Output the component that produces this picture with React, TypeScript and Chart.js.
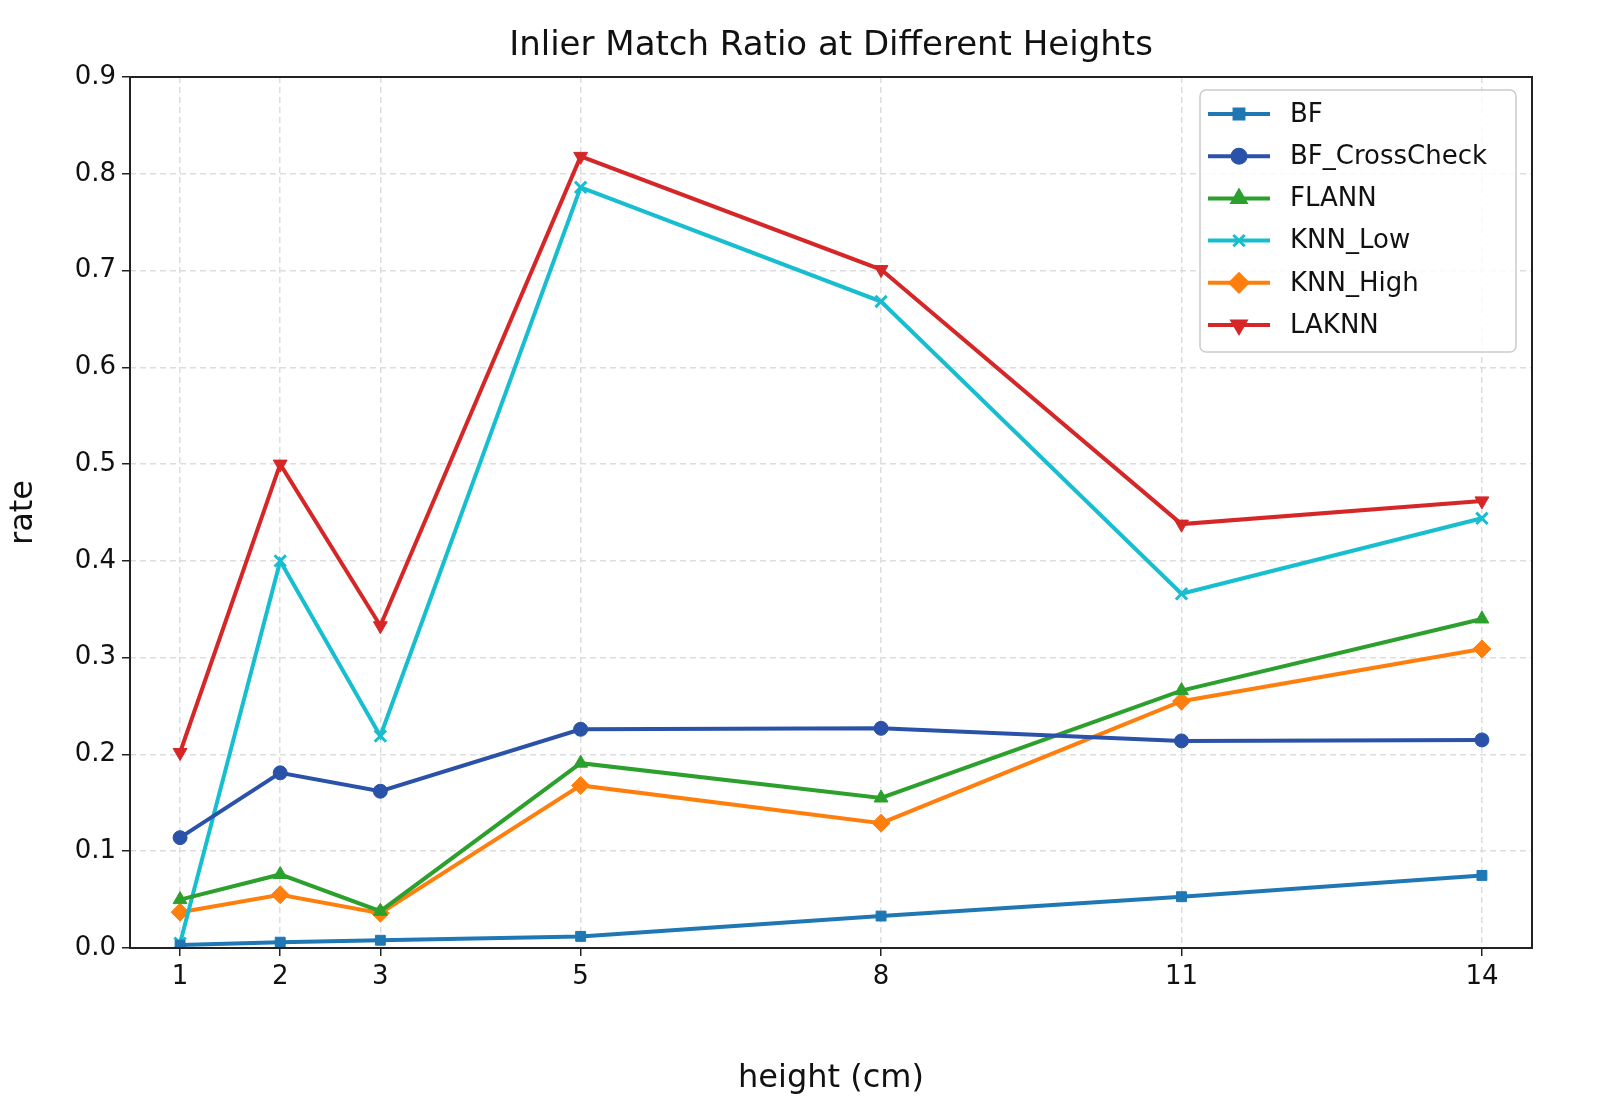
import React, { useEffect, useRef } from "react";
import { Chart, registerables } from "chart.js";
import { drawPoint } from "chart.js/helpers";
Chart.register(...registerables);

const heights = [1, 2, 3, 5, 8, 11, 14];
const xTicks = [1, 2, 3, 5, 8, 11, 14];
const bf = [0.003, 0.006, 0.008, 0.012, 0.033, 0.053, 0.075];
const bfCross = [0.114, 0.181, 0.162, 0.226, 0.227, 0.214, 0.215];
const flann = [0.05, 0.076, 0.038, 0.191, 0.155, 0.266, 0.34];
const knnLow = [0.005, 0.4, 0.219, 0.786, 0.668, 0.366, 0.444];
const knnHigh = [0.037, 0.055, 0.036, 0.168, 0.129, 0.255, 0.309];
const laknn = [0.202, 0.5, 0.333, 0.818, 0.701, 0.438, 0.462];

const FONT = "'DejaVu Sans', sans-serif";

const series = [
  { label: "BF", data: bf, color: "#1f77b4", style: "rect", rot: 0, r: 7 },
  { label: "BF_CrossCheck", data: bfCross, color: "#2a52a8", style: "circle", rot: 0, r: 7 },
  { label: "FLANN", data: flann, color: "#2ca02c", style: "triangle", rot: 0, r: 8 },
  { label: "KNN_Low", data: knnLow, color: "#17becf", style: "crossRot", rot: 0, r: 8 },
  { label: "KNN_High", data: knnHigh, color: "#ff7f0e", style: "rectRot", rot: 0, r: 9 },
  { label: "LAKNN", data: laknn, color: "#d62728", style: "triangle", rot: 180, r: 8 },
];

const framePlugin = {
  id: "frame",
  afterDraw(chart: any) {
    const { ctx, chartArea: a } = chart;
    ctx.save();
    ctx.strokeStyle = "#222";
    ctx.lineWidth = 2;
    ctx.strokeRect(a.left, a.top, a.right - a.left, a.bottom - a.top);
    ctx.fillStyle = "#111";
    ctx.font = `34px ${FONT}`;
    ctx.textAlign = "center";
    ctx.textBaseline = "middle";
    ctx.fillText("Inlier Match Ratio at Different Heights", (a.left + a.right) / 2, 46);
    const lx = 1200, ly = 90, lw = 316, lh = 262;
    ctx.fillStyle = "rgba(255,255,255,0.85)";
    ctx.strokeStyle = "#ccc";
    ctx.lineWidth = 1.5;
    ctx.beginPath();
    ctx.roundRect(lx, ly, lw, lh, 6);
    ctx.fill();
    ctx.stroke();
    ctx.font = `26px ${FONT}`;
    ctx.textAlign = "left";
    series.forEach((s, i) => {
      const y = 114 + i * 42.2;
      ctx.strokeStyle = s.color;
      ctx.lineWidth = 4;
      ctx.beginPath();
      ctx.moveTo(1208, y);
      ctx.lineTo(1270, y);
      ctx.stroke();
      ctx.fillStyle = s.color;
      ctx.strokeStyle = s.color;
      ctx.lineWidth = 3;
      drawPoint(ctx, { pointStyle: s.style, radius: s.r, rotation: s.rot, borderWidth: 3 } as any, 1239, y);
      ctx.fillStyle = "#111";
      ctx.fillText(s.label, 1290, y + 1);
    });
    ctx.restore();
  },
};

export default function App() {
  const ref = useRef<HTMLCanvasElement>(null);
  useEffect(() => {
    document.body.style.margin = "0";
    const chart = new Chart(ref.current!, {
      type: "line",
      data: {
        datasets: series.map((s) => ({
          label: s.label,
          data: heights.map((h, i) => ({ x: h, y: s.data[i] })),
          borderColor: s.color,
          backgroundColor: s.color,
          borderWidth: 4,
          pointStyle: s.style as any,
          pointRadius: s.r,
          pointRotation: s.rot,
          pointBorderWidth: s.style === "crossRot" ? 3 : 1,
          tension: 0,
        })),
      },
      options: {
        animation: false,
        responsive: false,
        layout: { padding: { left: 0, right: 68, top: 77, bottom: 0 } },
        plugins: { legend: { display: false }, tooltip: { enabled: false } },
        scales: {
          x: {
            type: "linear",
            min: 0.5,
            max: 14.5,
            afterBuildTicks: (s: any) => {
              s.ticks = xTicks.map((v) => ({ value: v }));
            },
            afterFit: (s: any) => {
              s.height = 154;
            },
            ticks: { font: { size: 26, family: FONT }, color: "#111", padding: 6, autoSkip: false },
            title: { display: true, text: "height (cm)", font: { size: 32, family: FONT }, color: "#111", padding: { top: 4 } },
            grid: { color: "#ddd", lineWidth: 1.5, tickColor: "#222", tickLength: 8, tickBorderDash: [] } as any,
            border: { display: false, dash: [6, 4] },
          },
          y: {
            min: 0,
            max: 0.9,
            afterFit: (s: any) => {
              s.width = 130;
            },
            ticks: { stepSize: 0.1, font: { size: 26, family: FONT }, color: "#111", padding: 6, callback: (v: any) => Number(v).toFixed(1) },
            title: { display: true, text: "rate", font: { size: 32, family: FONT }, color: "#111", padding: { bottom: 6 } },
            grid: { color: "#ddd", lineWidth: 1.5, tickColor: "#222", tickLength: 8, tickBorderDash: [] } as any,
            border: { display: false, dash: [6, 4] },
          },
        },
      },
      plugins: [framePlugin],
    });
    return () => chart.destroy();
  }, []);
  return <canvas ref={ref} width={1600} height={1102} style={{ display: "block" }} />;
}
